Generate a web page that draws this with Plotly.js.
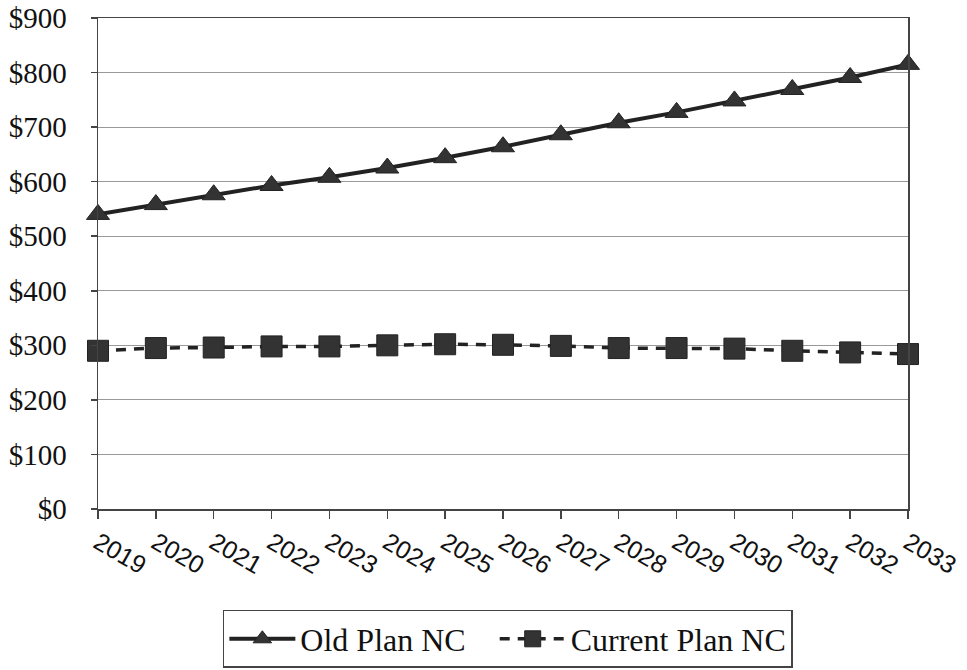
<!DOCTYPE html>
<html>
<head>
<meta charset="utf-8">
<script src="https://cdn.plot.ly/plotly-3.0.1.min.js"></script>
<style>html,body{margin:0;padding:0;background:#fff;}#chart{width:967px;height:670px;}</style>
</head>
<body>
<div id="chart"></div>
<script>
const years = [2019,2020,2021,2022,2023,2024,2025,2026,2027,2028,2029,2030,2031,2032,2033];
const oldPlanNC = [540,558,576,593,608,625,644,664,686,708,727,748,769,791,815];
const currentPlanNC = [290,295,296,298,298,300,302,301,299,295,295,294,290,287,284];
const yTickVals = [0,100,200,300,400,500,600,700,800,900];
const yTickText = yTickVals.map(v => '$' + v);
const seriesNames = ['Old Plan NC', 'Current Plan NC'];

const SERIF = "'Liberation Serif', Tinos, 'Times New Roman', Times, 'DejaVu Serif', serif";
const PAD = '\u00a0\u00a0\u00a0';

const traces = [
  {
    x: years, y: oldPlanNC, name: seriesNames[0] + PAD, type: 'scatter', mode: 'lines+markers',
    line: {color: '#222', width: 4},
    marker: {symbol: 'triangle-up', size: 20, color: '#333', line: {color: '#222', width: 1}},
    cliponaxis: false
  },
  {
    x: years, y: currentPlanNC, name: seriesNames[1], type: 'scatter', mode: 'lines+markers',
    line: {color: '#222', width: 3.5, dash: '10px,8px'},
    marker: {symbol: 'square', size: 21, color: '#333', line: {color: '#222', width: 1}},
    cliponaxis: false
  }
];

const layout = {
  width: 967, height: 670,
  margin: {l: 98, r: 59, t: 18, b: 161, autoexpand: false},
  paper_bgcolor: '#fff', plot_bgcolor: '#fff',
  showlegend: true,
  legend: {
    orientation: 'h', x: 0.506, xanchor: 'center', y: -0.2057, yanchor: 'top',
    bordercolor: '#444', borderwidth: 1.5,
    font: {family: SERIF, size: 32, color: '#111'},
    itemwidth: 66, tracegroupgap: 0
  },
  xaxis: {
    type: 'linear', range: [2019, 2033],
    tickmode: 'array', tickvals: years, ticktext: years.map(String),
    tickangle: 30,
    ticks: 'outside', ticklen: 8, tickcolor: '#444', tickwidth: 1.5,
    showgrid: false, zeroline: false,
    showline: true, linecolor: '#444', linewidth: 1.5, mirror: true,
    tickfont: {family: "'Liberation Sans', Arial, sans-serif", size: 25, color: '#111'}
  },
  yaxis: {
    range: [0, 900],
    tickmode: 'array', tickvals: yTickVals, ticktext: yTickText,
    ticks: 'outside', ticklen: 6, tickcolor: '#444', tickwidth: 1.5,
    showgrid: true, gridcolor: '#999', gridwidth: 1.2,
    zeroline: false,
    showline: true, linecolor: '#444', linewidth: 1.5, mirror: true,
    ticklabelstandoff: 18,
    tickfont: {family: SERIF, size: 29, color: '#111'}
  }
};

Plotly.newPlot('chart', traces, layout, {displayModeBar: false, staticPlot: true});
</script>
</body>
</html>
